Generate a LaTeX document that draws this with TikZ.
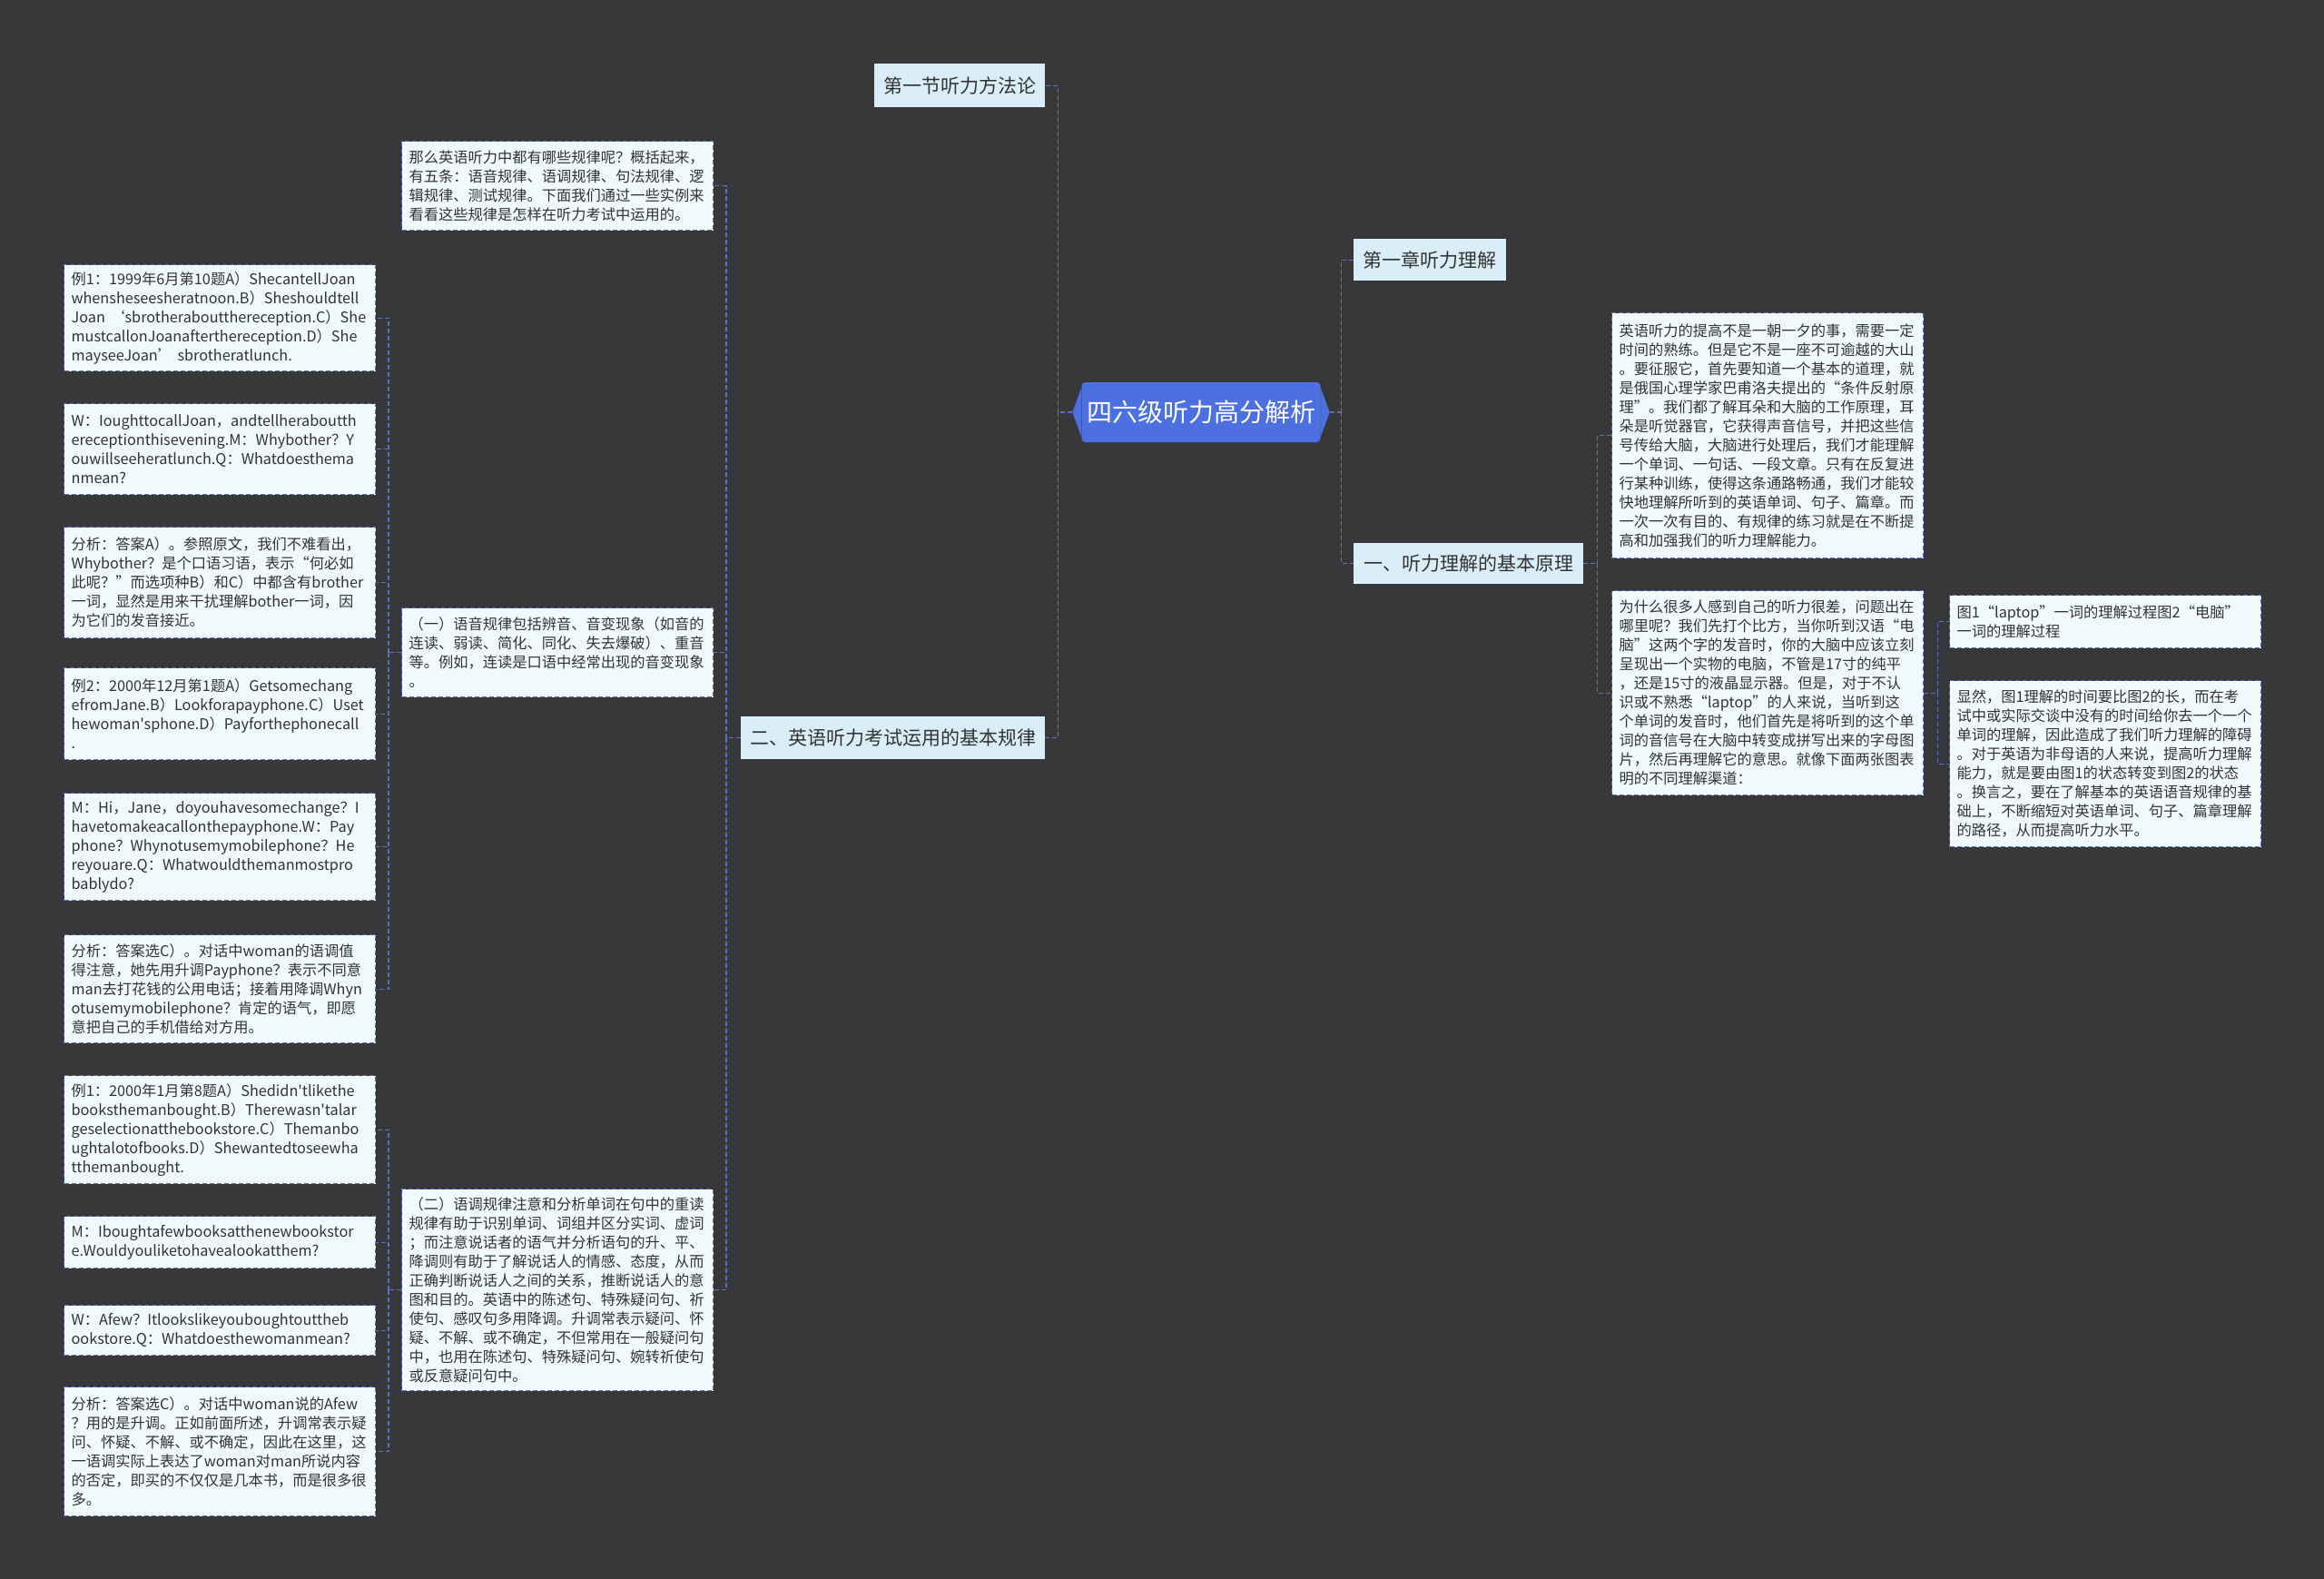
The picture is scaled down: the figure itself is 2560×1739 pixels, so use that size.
\documentclass[tikz,border=0pt]{standalone}
\usepackage{fontspec}
\newfontfamily\cjk{Noto Sans CJK SC}
\definecolor{bgc}{HTML}{38383A}
\definecolor{linec}{HTML}{5A6FC2}
\definecolor{leaffill}{HTML}{F0FAFC}
\definecolor{lonefill}{HTML}{D9EEF8}
\definecolor{textc}{HTML}{333333}
\definecolor{rootfill}{HTML}{4C70E0}
\begin{document}
\begin{tikzpicture}[x=1pt,y=-1pt,
  leaf/.style={draw=linec, line width=1.2pt, dash pattern=on 5pt off 3pt, fill=leaffill, text=textc,
    font=\cjk\fontsize{16.25}{21}\selectfont, align=left, text width=327pt, inner xsep=8pt, inner ysep=5pt,
    anchor=north west},
  lone/.style={fill=lonefill, text=textc, font=\cjk\fontsize{21}{25}\selectfont, inner sep=0pt, anchor=north west},
  conn/.style={draw=linec, line width=1.2pt, dash pattern=on 5pt off 3pt}
]
\fill[bgc] (0,0) rectangle (2560,1739);
\useasboundingbox (0,0) rectangle (2560,1739);

% root
\node[fill=rootfill, rounded corners=4pt, text=white, font=\cjk\fontsize{28}{32}\selectfont,
  minimum width=263pt, minimum height=66pt, inner sep=0pt] (root) at (1323,454) {四六级听力高分解析};
\fill[rootfill] ([yshift=-6pt]root.north west) -- ([xshift=-10pt]root.west) -- ([yshift=6pt]root.south west) -- cycle;
\fill[rootfill] ([yshift=-6pt]root.north east) -- ([xshift=10pt]root.east) -- ([yshift=6pt]root.south east) -- cycle;

% level 1
\node[lone, minimum width=188pt, minimum height=48pt] (s1) at (963,70) {第一节听力方法论};
\node[lone, minimum width=335pt, minimum height=47pt] (s2) at (816,789) {二、英语听力考试运用的基本规律};
\node[lone, minimum width=168pt, minimum height=46pt] (c1) at (1491,263) {第一章听力理解};
\node[lone, minimum width=253pt, minimum height=45pt] (c2) at (1491,598) {一、听力理解的基本原理};

% level 2 (left)
\node[leaf, minimum height=98pt] (ba) at (442,155) {那么英语听力中都有哪些规律呢？概括起来，\\有五条：语音规律、语调规律、句法规律、逻\\辑规律、测试规律。下面我们通过一些实例来\\看看这些规律是怎样在听力考试中运用的。};
\node[leaf, minimum height=98pt] (bb) at (442,669) {（一）语音规律包括辨音、音变现象（如音的\\连读、弱读、简化、同化、失去爆破）、重音\\等。例如，连读是口语中经常出现的音变现象\\。};
\node[leaf, minimum height=222pt] (bc) at (442,1309) {（二）语调规律注意和分析单词在句中的重读\\规律有助于识别单词、词组并区分实词、虚词\\；而注意说话者的语气并分析语句的升、平、\\降调则有助于了解说话人的情感、态度，从而\\正确判断说话人之间的关系，推断说话人的意\\图和目的。英语中的陈述句、特殊疑问句、祈\\使句、感叹句多用降调。升调常表示疑问、怀\\疑、不解、或不确定，不但常用在一般疑问句\\中，也用在陈述句、特殊疑问句、婉转祈使句\\或反意疑问句中。};

% leaves under bb
\node[leaf, minimum height=117pt] (l1) at (70,291) {例1：1999年6月第10题A）ShecantellJoan\\whensheseesheratnoon.B）Sheshouldtell\\Joan ‘sbrotheraboutthereception.C）She\\mustcallonJoanafterthereception.D）She\\mayseeJoan’ sbrotheratlunch.};
\node[leaf, minimum height=100pt] (l2) at (70,444) {W：IoughttocallJoan，andtellheraboutth\\ereceptionthisevening.M：Whybother？Y\\ouwillseeheratlunch.Q：Whatdoesthema\\nmean?};
\node[leaf, minimum height=122pt] (l3) at (70,580) {分析：答案A）。参照原文，我们不难看出，\\Whybother？是个口语习语，表示“何必如\\此呢？”而选项种B）和C）中都含有brother\\一词，显然是用来干扰理解bother一词，因\\为它们的发音接近。};
\node[leaf, minimum height=101pt] (l4) at (70,735) {例2：2000年12月第1题A）Getsomechang\\efromJane.B）Lookforapayphone.C）Uset\\hewoman'sphone.D）Payforthephonecall\\.};
\node[leaf, minimum height=118pt] (l5) at (70,873) {M：Hi，Jane，doyouhavesomechange？I\\havetomakeacallonthepayphone.W：Pay\\phone？Whynotusemymobilephone？He\\reyouare.Q：Whatwouldthemanmostpro\\bablydo?};
\node[leaf, minimum height=119pt] (l6) at (70,1029) {分析：答案选C）。对话中woman的语调值\\得注意，她先用升调Payphone？表示不同意\\man去打花钱的公用电话；接着用降调Whyn\\otusemymobilephone？肯定的语气，即愿\\意把自己的手机借给对方用。};

% leaves under bc
\node[leaf, minimum height=119pt] (l7) at (70,1184) {例1：2000年1月第8题A）Shedidn'tlikethe\\booksthemanbought.B）Therewasn'talar\\geselectionatthebookstore.C）Themanbo\\ughtalotofbooks.D）Shewantedtoseewha\\tthemanbought.};
\node[leaf, minimum height=57pt] (l8) at (70,1339) {M：Iboughtafewbooksatthenewbookstor\\e.Wouldyouliketohavealookatthem?};
\node[leaf, minimum height=55pt] (l9) at (70,1437) {W：Afew？Itlookslikeyouboughtouttheb\\ookstore.Q：Whatdoesthewomanmean?};
\node[leaf, minimum height=142pt] (l10) at (70,1527) {分析：答案选C）。对话中woman说的Afew\\？用的是升调。正如前面所述，升调常表示疑\\问、怀疑、不解、或不确定，因此在这里，这\\一语调实际上表达了woman对man所说内容\\的否定，即买的不仅仅是几本书，而是很多很\\多。};

% right side
\node[leaf, minimum height=270pt] (r1) at (1775,344) {英语听力的提高不是一朝一夕的事，需要一定\\时间的熟练。但是它不是一座不可逾越的大山\\。要征服它，首先要知道一个基本的道理，就\\是俄国心理学家巴甫洛夫提出的“条件反射原\\理”。我们都了解耳朵和大脑的工作原理，耳\\朵是听觉器官，它获得声音信号，并把这些信\\号传给大脑，大脑进行处理后，我们才能理解\\一个单词、一句话、一段文章。只有在反复进\\行某种训练，使得这条通路畅通，我们才能较\\快地理解所听到的英语单词、句子、篇章。而\\一次一次有目的、有规律的练习就是在不断提\\高和加强我们的听力理解能力。};
\node[leaf, minimum height=225pt] (r2) at (1775,650) {为什么很多人感到自己的听力很差，问题出在\\哪里呢？我们先打个比方，当你听到汉语“电\\脑”这两个字的发音时，你的大脑中应该立刻\\呈现出一个实物的电脑，不管是17寸的纯平\\，还是15寸的液晶显示器。但是，对于不认\\识或不熟悉“laptop”的人来说，当听到这\\个单词的发音时，他们首先是将听到的这个单\\词的音信号在大脑中转变成拼写出来的字母图\\片，然后再理解它的意思。就像下面两张图表\\明的不同理解渠道：};
\node[leaf, minimum height=58pt] (r3) at (2147,655) {图1“laptop”一词的理解过程图2“电脑”\\一词的理解过程};
\node[leaf, minimum height=183pt] (r4) at (2147,749) {显然，图1理解的时间要比图2的长，而在考\\试中或实际交谈中没有的时间给你去一个一个\\单词的理解，因此造成了我们听力理解的障碍\\。对于英语为非母语的人来说，提高听力理解\\能力，就是要由图1的状态转变到图2的状态\\。换言之，要在了解基本的英语语音规律的基\\础上，不断缩短对英语单词、句子、篇章理解\\的路径，从而提高听力水平。};

% connectors
\draw[conn] ([xshift=-10pt]root.west) -- ++(-16,0) coordinate (jL);
\draw[conn] (jL) |- (s1.east);
\draw[conn] (jL) |- (s2.east);
\draw[conn] ([xshift=10pt]root.east) -- ++(13,0) coordinate (jR);
\draw[conn] (jR) |- (c1.west);
\draw[conn] (jR) |- (c2.west);

\draw[conn] (s2.west) -- ++(-16,0) coordinate (j2);
\draw[conn] (j2) |- (ba.east);
\draw[conn] (j2) |- (bb.east);
\draw[conn] (j2) |- (bc.east);

\draw[conn] (bb.west) -- ++(-14,0) coordinate (jb);
\foreach \n in {l1,l2,l3,l4,l5,l6} \draw[conn] (jb) |- (\n.east);
\draw[conn] (bc.west) -- ++(-14,0) coordinate (jc);
\foreach \n in {l7,l8,l9,l10} \draw[conn] (jc) |- (\n.east);

\draw[conn] (c2.east) -- ++(15,0) coordinate (jr1);
\draw[conn] (jr1) |- (r1.west);
\draw[conn] (jr1) |- (r2.west);
\draw[conn] (r2.east) -- ++(15,0) coordinate (jr2);
\draw[conn] (jr2) |- (r3.west);
\draw[conn] (jr2) |- (r4.west);
\end{tikzpicture}
\end{document}
